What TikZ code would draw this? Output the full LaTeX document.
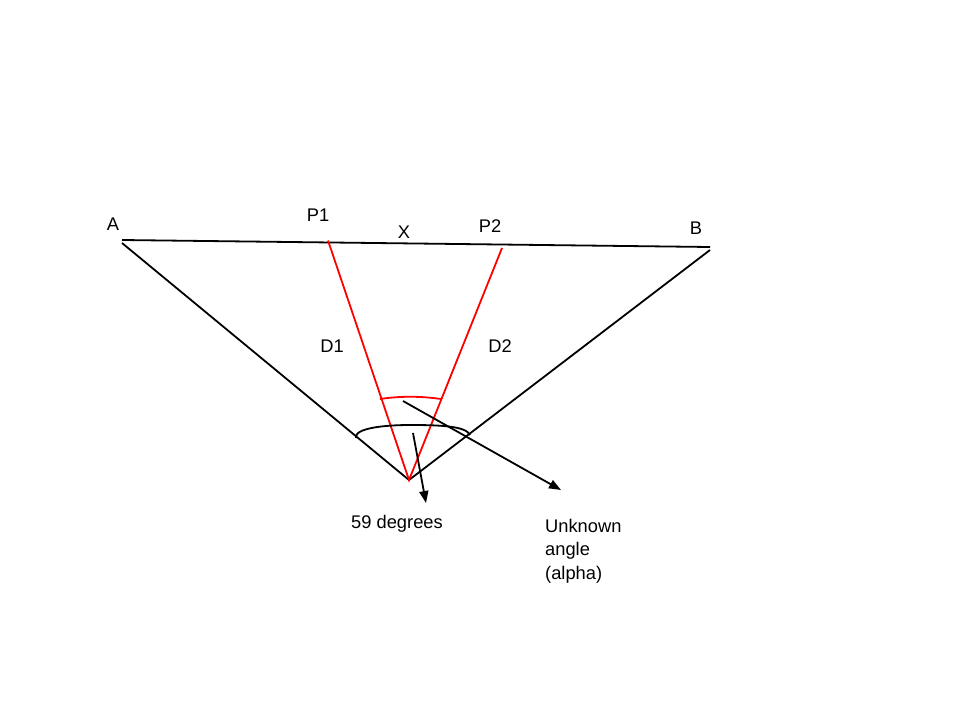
\documentclass[tikz,border=0pt]{standalone}
\usepackage{fontspec}
\setmainfont{Liberation Sans}
\usetikzlibrary{arrows.meta}
\begin{document}
\begin{tikzpicture}[x=1pt,y=-1pt,
  blk/.style={draw=black,line width=1.8pt},
  redl/.style={draw=red,line width=1.8pt},
  arr/.style={blk,-{Triangle[length=12pt,width=9pt]}},
  lbl/.style={font=\fontsize{18.3}{22}\selectfont,inner sep=0pt},
  lbl3/.style={lbl,align=left,font=\fontsize{18.3}{23.5}\selectfont}]
\useasboundingbox (0,0) rectangle (960,720);
\coordinate (A) at (122,240);
\coordinate (B) at (710,247);
\coordinate (Al) at (122,243);
\coordinate (Br) at (710,250);
\coordinate (O) at (409,480);
\coordinate (P1) at (328,240.5);
\coordinate (P2) at (502,248);
\coordinate (r1) at (380,399);
\coordinate (r2) at (441,399);
\coordinate (k1) at (356,438);
\coordinate (k2) at (470,435);
\coordinate (s1) at (413,433);
\coordinate (e1) at (426,503);
\coordinate (s2) at (403,401);
\coordinate (e2) at (561,490);
\draw[blk] (A) -- (B);
\draw[blk] (Al) -- (O) -- (Br);
\draw[redl] (P1) -- (O) -- (P2);
\draw[redl] (r1) .. controls (400,396) and (420,396) .. (r2);
\draw[blk] (k1) .. controls (354,428) and (385,425) .. (410,425) .. controls (440,425) and (466,426) .. (k2);
\draw[arr] (s1) -- (e1);
\draw[arr] (s2) -- (e2);
\node[lbl] (tA) at (113,224) {A};
\node[lbl] (tP1) at (318,215) {P1};
\node[lbl] (tX) at (404,232) {X};
\node[lbl] (tP2) at (490,226) {P2};
\node[lbl] (tB) at (696,228) {B};
\node[lbl] (tD1) at (332,346) {D1};
\node[lbl] (tD2) at (500,346) {D2};
\node[lbl] (t59) at (397,524) {59 degrees};
\node[lbl3,anchor=north west] (tU) at (545,519) {Unknown\\angle\\(alpha)};
\end{tikzpicture}
\end{document}
